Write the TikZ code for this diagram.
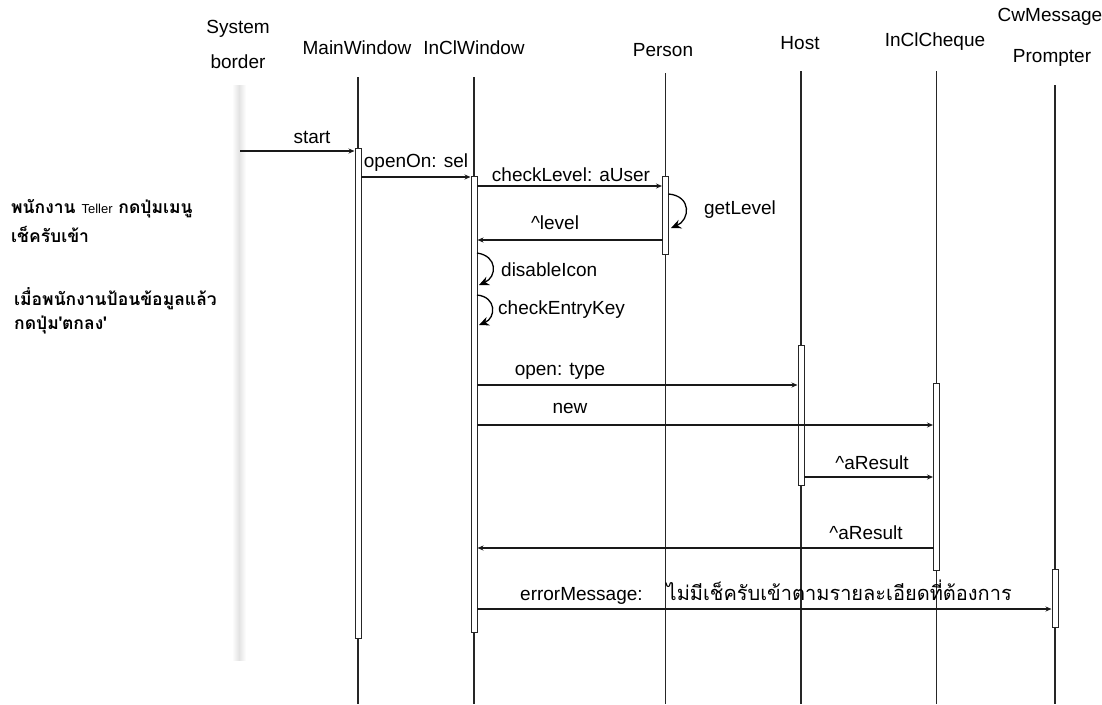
\documentclass[tikz,border=0pt]{standalone}
\usepackage{fontspec}
\setmainfont{Liberation Sans}
\newfontfamily\thai[Script=Thai]{Loma}
\usetikzlibrary{arrows.meta}
\tikzset{
  lbl/.style={font=\fontsize{19}{21}\selectfont, inner sep=0pt},
  life/.style={line width=1.1pt, draw=black!85},
  act/.style={draw=black!85, line width=1pt, fill=white, minimum width=6pt, inner sep=0pt},
  msg/.style={line width=1.1pt, draw=black!90, -{Stealth[length=6pt,width=5pt]}},
  selfmsg/.style={line width=1.3pt, -{Stealth[length=10pt,width=9pt]}},
  note/.style={font=\thai\bfseries\fontsize{17.5}{20}\selectfont, anchor=west, inner sep=0pt},
}
\begin{document}
\begin{tikzpicture}[x=1pt,y=-1pt]
\useasboundingbox[fill=white] (0,0) rectangle (1102,704);

% system border band
\shade[left color=white, right color=white, middle color=gray!22] (232,85) rectangle (246,660);

% heads
\node[lbl] (hSys1) at (238,29) {System};
\node[lbl] (hSys2) at (238,62) {border};
\node[lbl] (hMain) at (357,48) {MainWindow};
\node[lbl] (hIn) at (474,48) {InClWindow};
\node[lbl] (hPer) at (663,50) {Person};
\node[lbl] (hHost) at (800,43) {Host};
\node[lbl] (hChq) at (935,42) {InClCheque};
\node[lbl] (hCw1) at (1050,17) {CwMessage};
\node[lbl] (hCw2) at (1052,58) {Prompter};

% lifelines
\coordinate (mT) at (358,77);   \coordinate (mB) at (358,704);
\coordinate (iT) at (474,77);   \coordinate (iB) at (474,704);
\coordinate (pT) at (665.5,73); \coordinate (pB) at (665.5,704);
\coordinate (hT) at (801,71);   \coordinate (hB) at (801,704);
\coordinate (cT) at (936.5,71); \coordinate (cB) at (936.5,704);
\coordinate (wT) at (1055,85);  \coordinate (wB) at (1055,704);
\draw[life] (mT) -- (mB);
\draw[life] (iT) -- (iB);
\draw[life] (pT) -- (pB);
\draw[life] (hT) -- (hB);
\draw[life] (cT) -- (cB);
\draw[life] (wT) -- (wB);

% activations
\node[act, minimum height=490pt] (aMain) at (358,393) {};
\node[act, minimum height=456pt] (aIn) at (474,404) {};
\node[act, minimum height=78pt] (aPer) at (665.5,215) {};
\node[act, minimum height=140pt] (aHost) at (801,415) {};
\node[act, minimum height=187pt] (aChq) at (936.5,476.5) {};
\node[act, minimum height=58pt] (aCw) at (1055,598) {};

% messages
\coordinate (st0) at (240,151);
\draw[msg] (st0) -- (aMain.west |- st0);
\node[lbl] (lStart) at (312,137) {start};

\coordinate (op0) at (361,177);
\draw[msg] (op0) -- (aIn.west |- op0);
\node[lbl] (lOpen) at (416,163) {openOn: sel};

\coordinate (cl0) at (477,186);
\draw[msg] (cl0) -- (aPer.west |- cl0);
\node[lbl] (lCheck) at (571,175) {checkLevel: aUser};

\coordinate (gl0) at (668.5,194);
\coordinate (gl1) at (671,228);
\draw[selfmsg] (gl0) .. controls (692,196) and (690,220) .. (gl1);
\node[lbl] (lGet) at (740,210) {getLevel};

\coordinate (lv0) at (662.5,240);
\draw[msg] (lv0) -- (aIn.east |- lv0);
\node[lbl] (lLevel) at (555,223) {\^{}level};

\coordinate (di0) at (477,253);
\coordinate (di1) at (479,285);
\draw[selfmsg] (di0) .. controls (498,256) and (497,277) .. (di1);
\node[lbl, anchor=west] (lDis) at (501,270) {disableIcon};

\coordinate (ck0) at (477,295);
\coordinate (ck1) at (479,325);
\draw[selfmsg] (ck0) .. controls (497,297) and (496,318) .. (ck1);
\node[lbl, anchor=west] (lEntry) at (498,310) {checkEntryKey};

\coordinate (ot0) at (477,385);
\draw[msg] (ot0) -- (aHost.west |- ot0);
\node[lbl] (lOT) at (560,371) {open: type};

\coordinate (nw0) at (477,425);
\draw[msg] (nw0) -- (aChq.west |- nw0);
\node[lbl] (lNew) at (570,408) {new};

\coordinate (ar0) at (804,477);
\draw[msg] (ar0) -- (aChq.west |- ar0);
\node[lbl] (lAR1) at (872,463) {\^{}aResult};

\coordinate (ar2) at (933.5,548);
\draw[msg] (ar2) -- (aIn.east |- ar2);
\node[lbl] (lAR2) at (866,533) {\^{}aResult};

\coordinate (em0) at (477,609);
\draw[msg] (em0) -- (aCw.west |- em0);
\node[lbl, anchor=west] (lErr) at (520,592) {errorMessage:\hspace{24pt}{\thai\fontsize{20}{22}\selectfont ไม่มีเช็ครับเข้าตามรายละเอียดที่ต้องการ}};

% notes
\node[note] (n1) at (11,209) {พนักงาน {\fontsize{13}{15}\selectfont\mdseries\rmfamily Teller} กดปุ่มเมนู};
\node[note] (n2) at (11,234) {เช็ครับเข้า};
\node[note] (n3) at (14,299) {เมื่อพนักงานป้อนข้อมูลแล้ว};
\node[note] (n4) at (14,325) {กดปุ่ม'ตกลง'};
\end{tikzpicture}
\end{document}
